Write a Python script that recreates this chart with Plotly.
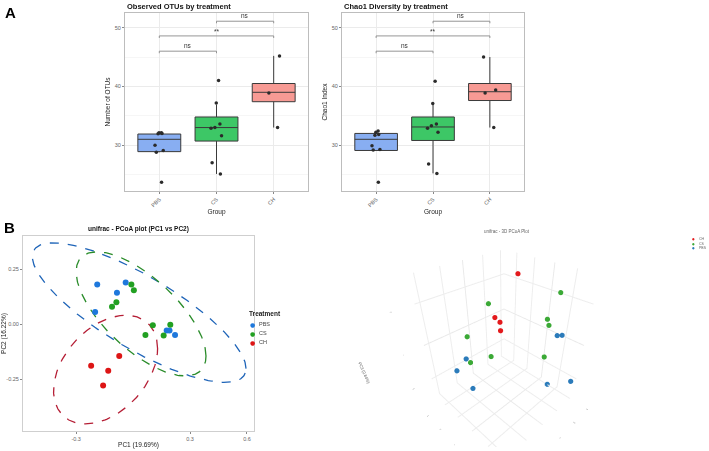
import numpy as np
import plotly.graph_objects as go

FONT = "Liberation Sans"
W, H = 709, 451

# ---------------- Panel A data ----------------
groups = ["PBS", "CS", "CH"]
box_fill = ["#88AEF2", "#3DC766", "#F79A94"]

# Observed OTUs: box statistics per group (PBS, CS, CH)
otu_q1 = [28.9, 30.7, 37.4]
otu_med = [31.0, 33.0, 39.0]
otu_q3 = [31.9, 34.8, 40.5]
otu_lo = [28.8, 25.1, 33.0]
otu_hi = [32.1, 36.9, 45.2]
otu_pbs = [32.1, 32.1, 32.0, 31.95, 30.0, 29.1, 28.8, 23.7]
otu_cs = [41.0, 37.2, 33.6, 33.0, 32.9, 31.6, 27.0, 25.1]
otu_ch = [45.2, 38.9, 33.0]

# Chao1 index: box statistics per group
chao_q1 = [29.1, 30.8, 37.6]
chao_med = [31.0, 33.1, 39.1]
chao_q3 = [32.0, 34.8, 40.5]
chao_lo = [29.2, 25.2, 33.0]
chao_hi = [32.4, 37.1, 45.0]
chao_pbs = [32.4, 32.2, 31.8, 31.7, 29.9, 29.25, 29.2, 23.7]
chao_cs = [40.9, 37.1, 33.6, 33.3, 32.9, 32.2, 26.8, 25.2]
chao_ch = [45.0, 39.4, 38.9, 33.0]

# significance brackets (group pairs, height, label)
sig_pairs = [("PBS", "CS"), ("PBS", "CH"), ("CS", "CH")]
sig_y = [46.0, 48.6, 51.1]
sig_labels = ["ns", "**", "ns"]

# ---------------- Panel B data ----------------
treat_names = ["PBS", "CS", "CH"]
pt_colors = ["#1E78DC", "#22A022", "#DD1515"]
ell_colors = ["#1E64B8", "#2A8C2A", "#B51E35"]

pbs_pc1 = [-0.189, -0.039, -0.085, -0.200, 0.177, 0.192, 0.221]
pbs_pc2 = [0.180, 0.189, 0.142, 0.055, -0.029, -0.029, -0.050]
cs_pc1 = [-0.009, 0.004, -0.088, -0.111, 0.104, 0.196, 0.161, 0.065]
cs_pc2 = [0.180, 0.154, 0.099, 0.079, -0.006, -0.003, -0.052, -0.050]
ch_pc1 = [-0.073, -0.221, -0.131, -0.158]
ch_pc2 = [-0.145, -0.190, -0.212, -0.279]

# PC3
pbs_pc3 = [-0.099, 0.074, 0.050, -0.159, -0.055, 0.028, 0.002]
cs_pc3 = [0.159, 0.109, 0.063, -0.030, 0.128, 0.085, 0.002, -0.012]
ch_pc3 = [-0.003, 0.112, -0.007, -0.013]

# 95% ellipses: centre x, centre y, sd x, sd y, correlation
ell_cx = [0.032, 0.042, -0.145]
ell_cy = [0.052, 0.046, -0.207]
ell_sx = [0.563, 0.342, 0.274]
ell_sy = [0.317, 0.282, 0.247]
ell_r = [-0.802, -0.679, 0.387]

pc1_label = "PC1 (19.69%)"
pc2_label = "PC2 (16.22%)"
pc3_label = "PC3 (9.84%)"

fig = go.Figure()


def px_x(p):
    return p / W


def px_y(p):
    return 1 - p / H


# ---------------- box plots ----------------
def add_box_panel(xa, ya, q1, med, q3, lo, hi, pts_lists):
    for i, g in enumerate(groups):
        fig.add_trace(go.Box(
            x=[g], q1=[q1[i]], median=[med[i]], q3=[q3[i]],
            lowerfence=[lo[i]], upperfence=[hi[i]],
            fillcolor=box_fill[i], line=dict(color="#3a3a3a", width=1),
            width=0.75, whiskerwidth=0, boxpoints=False,
            xaxis=xa, yaxis=ya, showlegend=False, hoverinfo="skip"))
    for i, g in enumerate(groups):
        fig.add_trace(go.Box(
            x=[g] * len(pts_lists[i]), y=pts_lists[i],
            boxpoints="all", jitter=0.35, pointpos=0, width=0.75,
            fillcolor="rgba(0,0,0,0)", line=dict(color="rgba(0,0,0,0)", width=0),
            marker=dict(color="#2b2b2b", size=3.5),
            xaxis=xa, yaxis=ya, showlegend=False, hoverinfo="skip"))
    for (a, b), yv, lab in zip(sig_pairs, sig_y, sig_labels):
        i0, i1 = groups.index(a), groups.index(b)
        for (x0, y0, x1, y1) in [(i0, yv, i1, yv), (i0, yv, i0, yv - 0.35), (i1, yv, i1, yv - 0.35)]:
            fig.add_shape(type="line", xref=xa, yref=ya, x0=x0, y0=y0, x1=x1, y1=y1,
                          line=dict(color="#8a8a8a", width=0.9))
        fig.add_annotation(xref=xa, yref=ya, x=(i0 + i1) / 2, y=yv, text=lab,
                           showarrow=False, yanchor="bottom", yshift=-1 if lab == "**" else 0,
                           font=dict(family=FONT, size=6.5, color="#333"))


add_box_panel("x", "y", otu_q1, otu_med, otu_q3, otu_lo, otu_hi, [otu_pbs, otu_cs, otu_ch])
add_box_panel("x2", "y2", chao_q1, chao_med, chao_q3, chao_lo, chao_hi, [chao_pbs, chao_cs, chao_ch])

box_x_common = dict(type="category", categoryorder="array", categoryarray=groups,
                    range=[-0.6, 2.6], showgrid=True, gridcolor="#EBEBEB", gridwidth=0.6,
                    tickangle=-45, ticks="outside", ticklen=2, tickcolor="#888",
                    tickfont=dict(family=FONT, size=5.5, color="#666"),
                    showline=True, linecolor="#BDBDBD", linewidth=1, mirror=True,
                    zeroline=False,
                    title=dict(text="Group", font=dict(family=FONT, size=6.5, color="#222"), standoff=2))
box_y_common = dict(range=[22.2, 52.5], tickvals=[30, 40, 50], showgrid=True,
                    gridcolor="#EBEBEB", gridwidth=0.6,
                    minor=dict(dtick=5, tick0=25, showgrid=True, gridcolor="#F6F6F6", gridwidth=0.5),
                    ticks="outside", ticklen=2, tickcolor="#888",
                    tickfont=dict(family=FONT, size=5.5, color="#666"),
                    showline=True, linecolor="#BDBDBD", linewidth=1, mirror=True, zeroline=False)

fig.update_layout(
    xaxis=dict(domain=[px_x(125), px_x(308)], anchor="y", **box_x_common),
    yaxis=dict(domain=[px_y(191), px_y(13)], anchor="x",
               title=dict(text="Number of OTUs", font=dict(family=FONT, size=6.5, color="#222"), standoff=3),
               **box_y_common),
    xaxis2=dict(domain=[px_x(342), px_x(524)], anchor="y2", **box_x_common),
    yaxis2=dict(domain=[px_y(191), px_y(13)], anchor="x2",
                title=dict(text="Chao1 Index", font=dict(family=FONT, size=6.5, color="#222"), standoff=3),
                **box_y_common),
)

# ---------------- PCoA 2-D ----------------
pc1_sets = [pbs_pc1, cs_pc1, ch_pc1]
pc2_sets = [pbs_pc2, cs_pc2, ch_pc2]
pc3_sets = [pbs_pc3, cs_pc3, ch_pc3]

t = np.linspace(0, 2 * np.pi, 240)
for i in range(3):
    ex = ell_cx[i] + ell_sx[i] * np.cos(t)
    ey = ell_cy[i] + ell_sy[i] * (ell_r[i] * np.cos(t) + np.sqrt(1 - ell_r[i] ** 2) * np.sin(t))
    fig.add_trace(go.Scatter(x=ex, y=ey, mode="lines", xaxis="x3", yaxis="y3",
                             line=dict(color=ell_colors[i], width=1.3, dash="dash"),
                             showlegend=False, hoverinfo="skip"))
for i in range(3):
    fig.add_trace(go.Scatter(x=pc1_sets[i], y=pc2_sets[i], mode="markers", name=treat_names[i],
                             xaxis="x3", yaxis="y3", showlegend=False,
                             marker=dict(color=pt_colors[i], size=6)))

fig.update_layout(
    xaxis3=dict(domain=[px_x(23), px_x(254)], anchor="y3", range=[-0.58, 0.637],
                tickvals=[-0.3, 0.3, 0.6], ticktext=["-0.3", "0.3", "0.6"],
                showgrid=False, zeroline=False, ticks="outside", ticklen=2, tickcolor="#888",
                tickfont=dict(family=FONT, size=5.5, color="#666"),
                showline=True, linecolor="#CFCFCF", linewidth=1, mirror=True,
                title=dict(text=pc1_label, font=dict(family=FONT, size=6.5, color="#222"), standoff=1)),
    yaxis3=dict(domain=[px_y(431), px_y(236)], anchor="x3", range=[-0.486, 0.40],
                tickvals=[-0.25, 0, 0.25], ticktext=["-0.25", "0.00", "0.25"],
                showgrid=False, zeroline=False, ticks="outside", ticklen=2, tickcolor="#888",
                tickfont=dict(family=FONT, size=5.5, color="#666"),
                showline=True, linecolor="#CFCFCF", linewidth=1, mirror=True,
                title=dict(text=pc2_label, font=dict(family=FONT, size=6.5, color="#222"), standoff=2)),
)

# manual legend for the 2-D PCoA (compact spacing)
fig.add_annotation(xref="paper", yref="paper", x=px_x(247), y=px_y(313), text="<b>Treatment</b>",
                   showarrow=False, xanchor="left", yanchor="middle",
                   font=dict(family=FONT, size=6.5, color="#222"))
for k, i in enumerate(range(3)):
    yy = px_y(324 + 9 * k)
    fig.add_annotation(xref="paper", yref="paper", x=px_x(252), y=yy, text="●",
                       showarrow=False, xanchor="center", yanchor="middle",
                       font=dict(family="DejaVu Sans", size=6, color=pt_colors[i]))
    fig.add_annotation(xref="paper", yref="paper", x=px_x(257), y=yy, text=treat_names[i],
                       showarrow=False, xanchor="left", yanchor="middle",
                       font=dict(family=FONT, size=5.5, color="#444"))

# ---------------- PCoA 3-D ----------------
order3d = [2, 1, 0]  # legend order CH, CS, PBS
colors3d = ["#2B7BBA", "#3BA936", "#E3191C"]
for i in order3d:
    fig.add_trace(go.Scatter3d(x=pc1_sets[i], y=pc2_sets[i], z=pc3_sets[i], mode="markers",
                               name=treat_names[i], showlegend=False, scene="scene",
                               marker=dict(color=colors3d[i], size=3, line=dict(width=0))))

ax3 = dict(showbackground=False, gridcolor="#EDEDED", zerolinecolor="#E6E6E6",
           showline=False, tickfont=dict(family=FONT, size=4, color="#777"))
fig.update_layout(
    scene=dict(domain=dict(x=[px_x(349), px_x(659)], y=[px_y(447), px_y(244)]),
               xaxis=dict(title=dict(text=pc1_label, font=dict(family=FONT, size=4, color="#555")),
                          range=[-0.221, 0.221], dtick=0.1, **ax3),
               yaxis=dict(title=dict(text=pc2_label, font=dict(family=FONT, size=4, color="#555")),
                          range=[-0.279, 0.189], dtick=0.1, **ax3),
               zaxis=dict(title=dict(text=pc3_label, font=dict(family=FONT, size=4, color="#555")),
                          range=[-0.16, 0.16], dtick=0.1, **ax3),
               aspectmode="manual", aspectratio=dict(x=1, y=1, z=1.28),
               camera=dict(eye=dict(x=1.25, y=1.25, z=1.25))),
)
for k, i in enumerate(order3d):
    yy = px_y(239 + 4.5 * k)
    fig.add_annotation(xref="paper", yref="paper", x=px_x(693), y=yy, text="●",
                       showarrow=False, xanchor="center", yanchor="middle",
                       font=dict(family="DejaVu Sans", size=3, color=colors3d[i]))
    fig.add_annotation(xref="paper", yref="paper", x=px_x(697), y=yy, text=treat_names[i],
                       showarrow=False, xanchor="left", yanchor="middle",
                       font=dict(family=FONT, size=3.5, color="#666"))

# ---------------- text annotations ----------------
anns = [
    dict(x=px_x(3), y=px_y(12), text="<b>A</b>", font=dict(family=FONT, size=15, color="#000"),
         xanchor="left", yanchor="middle"),
    dict(x=px_x(2), y=px_y(228), text="<b>B</b>", font=dict(family=FONT, size=15, color="#000"),
         xanchor="left", yanchor="middle"),
    dict(x=px_x(125), y=px_y(7), text="<b>Observed OTUs by treatment</b>",
         font=dict(family=FONT, size=7.5, color="#111"), xanchor="left", yanchor="middle"),
    dict(x=px_x(342), y=px_y(7), text="<b>Chao1 Diversity by treatment</b>",
         font=dict(family=FONT, size=7.5, color="#111"), xanchor="left", yanchor="middle"),
    dict(x=px_x(138), y=px_y(229), text="<b>unifrac - PCoA plot (PC1 vs PC2)</b>",
         font=dict(family=FONT, size=6.5, color="#111"), xanchor="center", yanchor="middle"),
    dict(x=px_x(507), y=px_y(231), text="unifrac - 3D PCoA Plot",
         font=dict(family=FONT, size=4.5, color="#666"), xanchor="center", yanchor="middle"),
]
for a in anns:
    fig.add_annotation(xref="paper", yref="paper", showarrow=False, **a)

fig.update_layout(width=W, height=H, margin=dict(l=0, r=0, t=0, b=0, autoexpand=False),
                  paper_bgcolor="white", plot_bgcolor="white", boxmode="overlay",
                  showlegend=False, font=dict(family=FONT))

fig.write_html("out.html")
